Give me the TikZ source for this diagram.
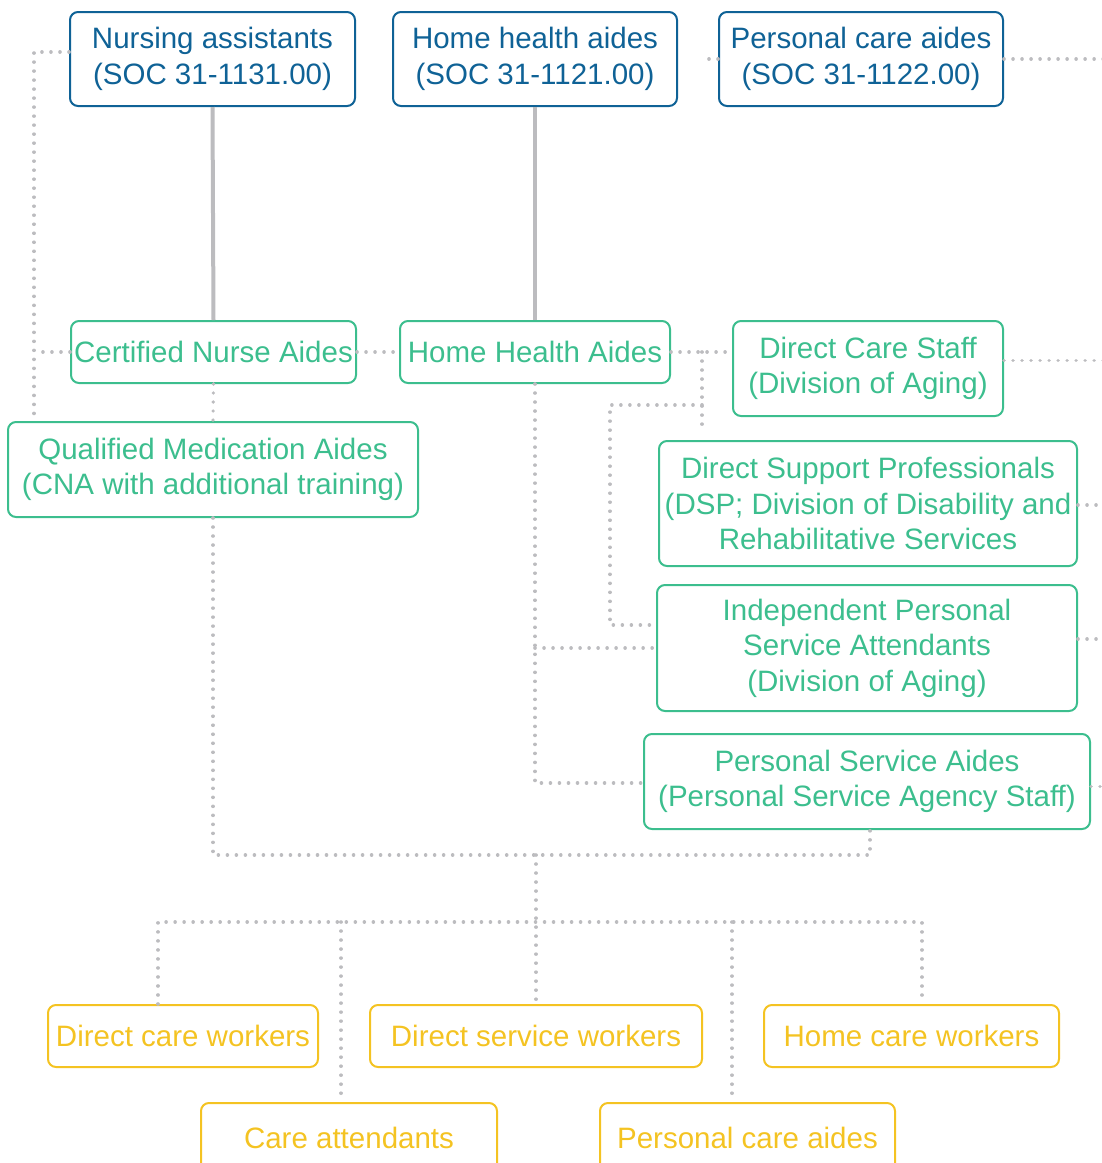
\documentclass[tikz,border=0pt]{standalone}
\usepackage{fontspec}
\setmainfont{Liberation Sans}
\definecolor{cblue}{HTML}{0F6296}
\definecolor{cgreen}{HTML}{3CBE8E}
\definecolor{cyellow}{HTML}{F4C322}
\definecolor{cgray}{HTML}{BCBCBF}
\begin{document}
\begin{tikzpicture}[x=1pt,y=-1pt,
  box/.style={draw, rounded corners=8pt, line width=2pt, align=center, inner sep=0pt,
    font=\fontsize{29.5}{35.5}\selectfont},
  bluebox/.style={box, draw=cblue, text=cblue},
  greenbox/.style={box, draw=cgreen, text=cgreen},
  yellowbox/.style={box, draw=cyellow, text=cyellow},
  dots/.style={draw=cgray, line width=3.6pt, line cap=round, dash pattern=on 0.01pt off 9pt},
  solidline/.style={draw=cgray, line width=4pt}]
\useasboundingbox (0,0) rectangle (1102,1163);

% top row
\node[bluebox, minimum width=285pt, minimum height=94pt] (na) at (212.5,59) {Nursing assistants\\(SOC 31-1131.00)};
\node[bluebox, minimum width=284pt, minimum height=94pt] (hha) at (535,59) {Home health aides\\(SOC 31-1121.00)};
\node[bluebox, minimum width=284pt, minimum height=94pt] (pca) at (861,59) {Personal care aides\\(SOC 31-1122.00)};

% green nodes
\node[greenbox, minimum width=285pt, minimum height=62pt] (cna) at (213.5,352) {Certified Nurse Aides};
\node[greenbox, minimum width=270pt, minimum height=62pt] (hhA) at (535,352) {Home Health Aides};
\node[greenbox, minimum width=270pt, minimum height=95pt] (dcs) at (868,368.5) {Direct Care Staff\\(Division of Aging)};
\node[greenbox, minimum width=418pt, minimum height=125pt] (dsp) at (868,503.5) {Direct Support Professionals\\(DSP; Division of Disability and\\Rehabilitative Services};
\node[greenbox, minimum width=420pt, minimum height=126pt] (ipsa) at (867,648) {Independent Personal\\Service Attendants\\(Division of Aging)};
\node[greenbox, minimum width=446pt, minimum height=95pt] (psa) at (867,781.5) {Personal Service Aides\\(Personal Service Agency Staff)};
\node[greenbox, minimum width=410pt, minimum height=95pt] (qma) at (213,469.5) {Qualified Medication Aides\\(CNA with additional training)};

% yellow nodes
\node[yellowbox, minimum width=270pt, minimum height=62pt] (dcw) at (183,1036) {Direct care workers};
\node[yellowbox, minimum width=332pt, minimum height=62pt] (dsw) at (536,1036) {Direct service workers};
\node[yellowbox, minimum width=295pt, minimum height=62pt] (hcw) at (911.5,1036) {Home care workers};
\node[yellowbox, minimum width=296pt, minimum height=70pt] (ca) at (349,1138) {Care attendants};
\node[yellowbox, minimum width=295pt, minimum height=70pt] (pcb) at (747.5,1138) {Personal care aides};

% solid connectors
\draw[solidline] (na.south) -- (cna.north);
\draw[solidline] (hha.south) -- (hhA.north);

% coordinates
\coordinate (lc) at (34,417);
\coordinate (j1) at (702,352);
\coordinate (j1b) at (702,433);
\coordinate (j2) at (702,405);
\coordinate (j3) at (610,625);
\coordinate (rx) at (1106,0);
\coordinate (pl) at (705,59);
\coordinate (h1) at (870,855);
\coordinate (h2l) at (158,922);
\coordinate (h2r) at (922,922);
\coordinate (v1) at (341,922);
\coordinate (v2) at (732,922);

% dotted connectors, left
\draw[dots] ([yshift=7pt]na.west) -| (lc);
\draw[dots] (cna.west) -- (cna.west -| lc);
\draw[dots] (cna.east) -- (hhA.west);
\draw[dots] (cna.south) -- (qma.north);

% dotted connectors, middle
\draw[dots] (hhA.east) -- (dcs.west |- hhA.east);
\draw[dots] (j1) -- (j1b);
\draw[dots] (j2) -| (j3) -- (ipsa.west |- j3);
\draw[dots] (hhA.south) |- ([yshift=-1.5pt]psa.west);
\draw[dots] (hhA.south |- ipsa.west) -- (ipsa.west);

% dotted stubs, right
\draw[dots] (pca.east) -- (pca.east -| rx);
\draw[dots] (pca.west) -- (pl);
\draw[dots] ([yshift=8pt]dcs.east) -- ([yshift=8pt]dcs.east -| rx);
\draw[dots] ([yshift=-1.5pt]dsp.east) -- ([yshift=-1.5pt]dsp.east -| rx);
\draw[dots] ([yshift=9pt]ipsa.east) -- ([yshift=9pt]ipsa.east -| rx);
\draw[dots] ([yshift=-5pt]psa.east) -- ([yshift=-5pt]psa.east -| rx);

% dotted connectors, bottom
\draw[dots] (qma.south) |- (h1) -- (h1 |- psa.south);
\draw[dots] (dsw.north |- h1) -- (dsw.north);
\draw[dots] (h2l |- dcw.north) -- (h2l) -- (h2r) -- (h2r |- hcw.north);
\draw[dots] (v1) -- (v1 |- ca.north);
\draw[dots] (v2) -- (v2 |- pcb.north);
\end{tikzpicture}
\end{document}
